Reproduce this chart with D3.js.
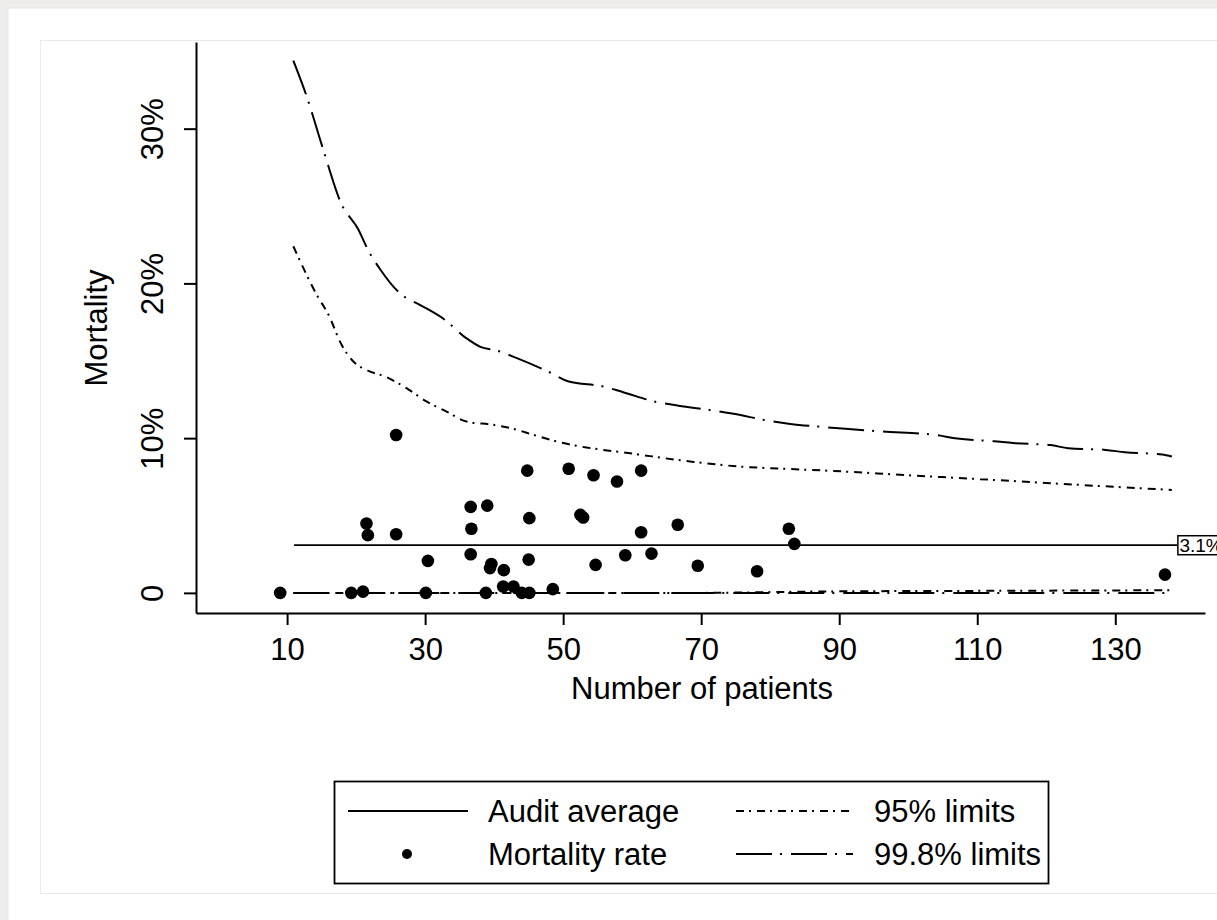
<!DOCTYPE html>
<html>
<head>
<meta charset="utf-8">
<script src="https://cdn.jsdelivr.net/npm/d3@7"></script>
<style>
  html, body { margin: 0; padding: 0; background: #fff; }
  svg { display: block; font-family: "Liberation Sans", Arial, sans-serif; }
</style>
</head>
<body>
<svg id="chart"></svg>
<script>
// hospitals: number of patients and observed mortality (%)
const hospN = [9, 19.3, 21.0, 21.5, 21.7, 25.8, 25.8, 30.1, 30.4, 36.6, 36.7, 36.6,
  38.8, 39.0, 39.4, 39.6, 41.3, 41.4, 42.8, 44.0, 44.8, 45.0, 45.1, 45.1, 48.5,
  50.8, 52.5, 52.9, 54.4, 54.7, 57.8, 59.0, 61.3, 61.3, 62.8, 66.6, 69.5, 78.1,
  82.7, 83.5, 137.2];
const hospRate = [0, 0, 0.08, 4.48, 3.73, 10.2, 3.79, 0, 2.07, 5.56, 4.14, 2.5,
  0, 5.64, 1.6, 1.87, 0.41, 1.47, 0.41, 0, 7.9, 2.15, 4.83, 0, 0.24,
  8.02, 5.04, 4.87, 7.6, 1.81, 7.2, 2.43, 7.9, 3.92, 2.54, 4.4, 1.75, 1.4,
  4.14, 3.17, 1.18];

const auditAvg = 3.08;
const auditN = [11, 139];

// 99.8% upper limit
const up998N = [10.9, 12.75, 15.2, 17.8, 20.3, 21.8, 23.5, 26.5, 29.3, 32.7, 36.0, 38.0,
  40.4, 43.3, 48.1, 50.8, 55.8, 58.7, 63.6, 66.7, 71.8, 74.7, 79.8, 82.9, 88.0,
  90.9, 96.2, 104.2, 107.1, 112.4, 115.2, 120.6, 123.2, 128.6, 131.4, 136.8, 138.2];
const up998 = [34.4, 32.2, 28.7, 25.2, 23.5, 22.1, 20.9, 19.3, 18.6, 17.7, 16.45, 15.9,
  15.66, 15.17, 14.24, 13.66, 13.34, 12.97, 12.33, 12.1, 11.78, 11.57, 11.12, 10.92, 10.71,
  10.6, 10.43, 10.19, 9.97, 9.8, 9.68, 9.55, 9.35, 9.24, 9.09, 8.94, 8.81];

// 95% upper limit
const up95N = [10.9, 14.3, 16.0, 17.9, 19.6, 21.5, 24.4, 27.3, 30.2, 33.1, 36.0, 39.9,
  42.8, 45.7, 49.1, 52.5, 55.8, 58.3, 68.4, 75.7, 80, 88.7, 100, 110.4, 120, 130, 138.2];
const up95 = [22.4, 19.26, 17.97, 16.03, 14.95, 14.41, 13.94, 13.23, 12.37, 11.72, 11.07, 10.86,
  10.6, 10.21, 9.78, 9.46, 9.24, 9.1, 8.49, 8.16, 8.06, 7.89, 7.6, 7.35, 7.1, 6.85, 6.65];

// lower limits
const lo95N = [10.9, 70, 80, 90, 110, 138.2];
const lo95 = [0, 0, 0.05, 0.1, 0.13, 0.17];
const lo998N = [10.9, 138.2];
const lo998 = [0, 0];

const xTicks = [10, 30, 50, 70, 90, 110, 130];
const yTicks = [0, 10, 20, 30];

const W = 1217, H = 920;
const svg = d3.select("#chart").attr("width", W).attr("height", H);

// page backdrop
svg.append("rect").attr("width", W).attr("height", H).attr("fill", "#efecec");
svg.append("rect").attr("x", 8).attr("y", 8).attr("width", W).attr("height", H)
  .attr("fill", "#fff").attr("stroke", "#e3e8ee");
svg.append("rect").attr("x", 40.5).attr("y", 40.5).attr("width", W).attr("height", 853)
  .attr("fill", "#fff").attr("stroke", "#e6ecf2");

const x = d3.scaleLinear().domain([-3.2, 143]).range([196, 1205]);
const y = d3.scaleLinear().domain([-1.3, 35.6]).range([613, 42]);

const pct = d => d === 0 ? "0" : d + "%";

// y axis
const gy = svg.append("g")
  .attr("transform", "translate(196,0)")
  .call(d3.axisLeft(y).tickValues(yTicks).tickFormat(pct).tickSize(12).tickSizeOuter(0));
gy.select(".domain").attr("stroke", "#000").attr("stroke-width", 2);
gy.selectAll(".tick line").attr("stroke", "#000").attr("stroke-width", 2);
gy.selectAll(".tick text")
  .attr("transform", "rotate(-90)")
  .attr("x", 0).attr("y", -33).attr("dy", 0)
  .attr("text-anchor", "middle")
  .attr("fill", "#000").attr("font-size", 31).attr("font-family", null);

// x axis
const gx = svg.append("g")
  .attr("transform", "translate(0,613)")
  .call(d3.axisBottom(x).tickValues(xTicks).tickSize(12).tickSizeOuter(0).tickPadding(13));
gx.select(".domain").attr("stroke", "#000").attr("stroke-width", 2);
gx.selectAll(".tick line").attr("stroke", "#000").attr("stroke-width", 2);
gx.selectAll(".tick text").attr("fill", "#000").attr("font-size", 31).attr("font-family", null);

// axis titles
svg.append("text").attr("x", 702).attr("y", 699).attr("text-anchor", "middle")
  .attr("font-size", 31).text("Number of patients");
svg.append("text").attr("transform", "translate(107,328) rotate(-90)")
  .attr("text-anchor", "middle").attr("font-size", 31).text("Mortality");

const dash95 = "8,5,2,6";
const dash998 = "36,8,2,9";

const line = d3.line().x(d => x(d[0])).y(d => y(d[1])).curve(d3.curveMonotoneX);
const pairs = (a, b) => a.map((v, i) => [v, b[i]]);

function curve(ns, vs, dash) {
  svg.append("path")
    .datum(pairs(ns, vs))
    .attr("fill", "none")
    .attr("stroke", "#000")
    .attr("stroke-width", 2)
    .attr("stroke-dasharray", dash)
    .attr("d", line);
}
curve(lo998N, lo998, dash998);
curve(lo95N, lo95, dash95);
curve(up95N, up95, dash95);
curve(up998N, up998, dash998);

// audit average
svg.append("line")
  .attr("x1", x(auditN[0])).attr("x2", x(auditN[1]))
  .attr("y1", y(auditAvg)).attr("y2", y(auditAvg))
  .attr("stroke", "#000").attr("stroke-width", 1.8);
const lab = svg.append("g").attr("transform", `translate(${x(auditN[1])},${y(auditAvg)})`);
lab.append("rect").attr("x", 0.5).attr("y", -9.5).attr("width", 60).attr("height", 19)
  .attr("fill", "#fff").attr("stroke", "#000").attr("stroke-width", 1.5);
lab.append("text").attr("x", 2).attr("y", 7).attr("font-size", 19).text("3.1%");

// hospital points
svg.append("g").selectAll("circle")
  .data(pairs(hospN, hospRate))
  .enter()
  .append("circle")
  .attr("cx", d => x(d[0]))
  .attr("cy", d => y(d[1]))
  .attr("r", 6.3)
  .attr("fill", "#000");

// legend
const lg = svg.append("g");
lg.append("rect").attr("x", 334.5).attr("y", 781.5).attr("width", 714).attr("height", 102)
  .attr("fill", "#fff").attr("stroke", "#000").attr("stroke-width", 1.8);
const r1 = 811, r2 = 854;
lg.append("line").attr("x1", 348).attr("x2", 468).attr("y1", r1).attr("y2", r1)
  .attr("stroke", "#000").attr("stroke-width", 1.8);
lg.append("circle").attr("cx", 407).attr("cy", r2).attr("r", 5).attr("fill", "#000");
lg.append("line").attr("x1", 736).attr("x2", 853).attr("y1", r1).attr("y2", r1)
  .attr("stroke", "#000").attr("stroke-width", 1.8).attr("stroke-dasharray", dash95);
lg.append("line").attr("x1", 736).attr("x2", 853).attr("y1", r2).attr("y2", r2)
  .attr("stroke", "#000").attr("stroke-width", 1.8).attr("stroke-dasharray", dash998);
const legendText = [["Audit average", 488, r1], ["Mortality rate", 488, r2],
  ["95% limits", 874, r1], ["99.8% limits", 874, r2]];
lg.selectAll("text.lt").data(legendText).enter().append("text")
  .attr("class", "lt")
  .attr("x", d => d[1]).attr("y", d => d[2] + 11)
  .attr("font-size", 31).text(d => d[0]);
</script>
</body>
</html>
